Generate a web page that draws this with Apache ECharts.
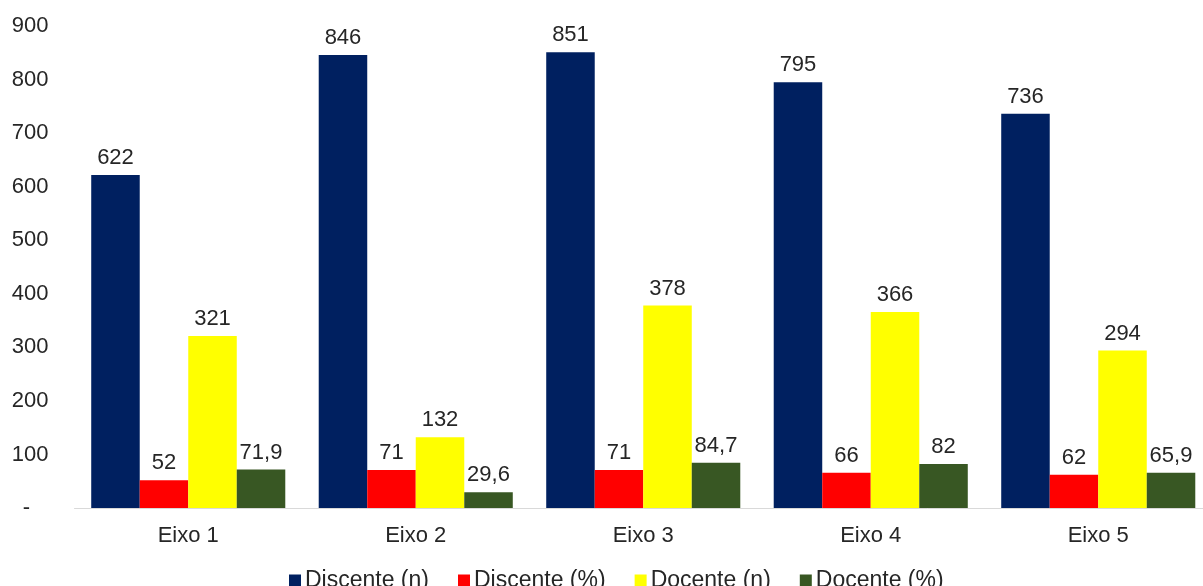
<!DOCTYPE html>
<html>
<head>
<meta charset="utf-8">
<script src="https://cdn.jsdelivr.net/npm/echarts@6/dist/echarts.min.js"></script>
<style>
html,body{margin:0;padding:0;background:#fff;overflow:hidden;width:1203px;height:586px;}
#c{width:1212px;height:586px;}
</style>
</head>
<body>
<div id="c"></div>
<script>
var categories = ['Eixo 1', 'Eixo 2', 'Eixo 3', 'Eixo 4', 'Eixo 5'];
var seriesNames = ['Discente (n)', 'Discente (%)', 'Docente (n)', 'Docente (%)'];
var discenteN = [622, 846, 851, 795, 736];
var discentePct = [52, 71, 71, 66, 62];
var docenteN = [321, 132, 378, 366, 294];
var docentePct = [71.9, 29.6, 84.7, 82, 65.9];
var colors = ['#002060', '#FF0000', '#FFFF00', '#385723'];

var FONT = '"Liberation Sans", Arial, sans-serif';
var TXT = '#262626';

function mk(name, data, color) {
  return {
    name: name,
    type: 'bar',
    data: data,
    barGap: '0%',
    barCategoryGap: '14.7%',
    itemStyle: { color: color },
    label: {
      show: true,
      position: 'top',
      distance: 6,
      color: TXT,
      fontFamily: FONT,
      fontSize: 22,
      formatter: function (p) { return String(p.value).replace('.', ','); }
    }
  };
}

var chart = echarts.init(document.getElementById('c'), null, { renderer: 'canvas' });
chart.setOption({
  animation: false,
  backgroundColor: '#fff',
  textStyle: { fontFamily: FONT },
  grid: { left: 74.5, right: 0, top: 26, bottom: 78, containLabel: false },
  legend: {
    left: 284,
    top: 564,
    itemWidth: 12,
    itemHeight: 12,
    itemGap: 29,
    icon: 'rect',
    textStyle: { color: TXT, fontSize: 23, fontFamily: FONT, padding: [0, 0, 0, -1] },
    data: seriesNames
  },
  xAxis: {
    type: 'category',
    data: categories,
    axisLine: { show: true, lineStyle: { color: '#d9d9d9', width: 1 } },
    axisTick: { show: false },
    axisLabel: { color: TXT, fontSize: 22, fontFamily: FONT, margin: 17 }
  },
  yAxis: {
    type: 'value',
    min: 0,
    max: 900,
    interval: 100,
    splitLine: { show: false },
    axisLine: { show: false },
    axisTick: { show: false },
    axisLabel: {
      color: TXT, fontSize: 22, fontFamily: FONT, margin: 26,
      formatter: function (v) { return v === 0 ? '-   ' : String(v); }
    }
  },
  series: [
    mk(seriesNames[0], discenteN, colors[0]),
    mk(seriesNames[1], discentePct, colors[1]),
    mk(seriesNames[2], docenteN, colors[2]),
    mk(seriesNames[3], docentePct, colors[3])
  ]
});
</script>
</body>
</html>
